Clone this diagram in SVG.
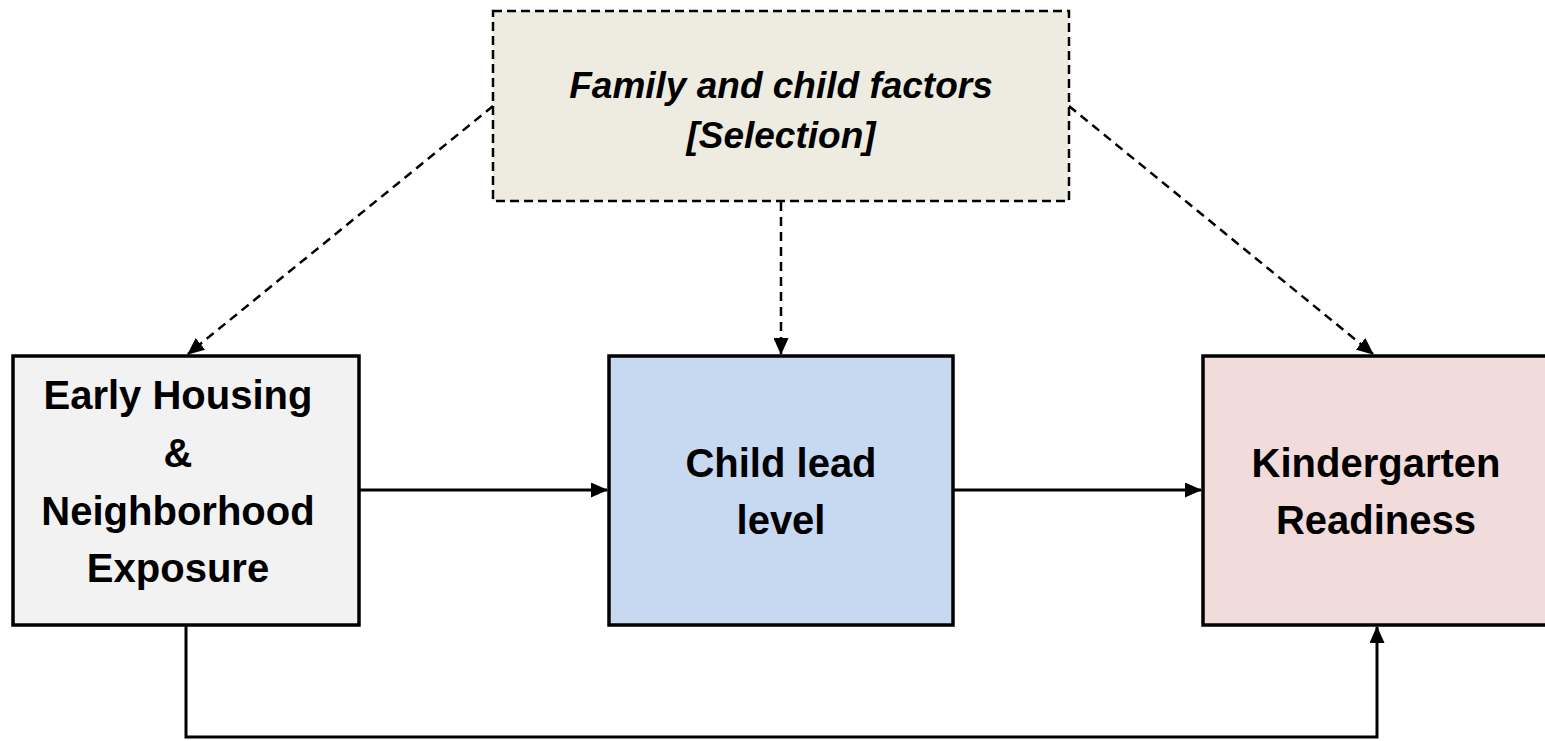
<svg xmlns="http://www.w3.org/2000/svg" width="1545" height="741" viewBox="0 0 1545 741">
<style>
.box{stroke:#000;stroke-width:3.5}
.dbox{stroke:#000;stroke-width:2.5;stroke-dasharray:9 5}
.lbl{font-family:"Liberation Sans",Arial,sans-serif;font-weight:bold;font-size:40px;fill:#000;text-anchor:middle}
.ital{font-style:italic;font-size:37px}
.solid{stroke:#000;stroke-width:3;fill:none}
.dash{stroke:#000;stroke-width:2.5;fill:none;stroke-dasharray:9 6}
</style>
<defs>
<marker id="ah" markerUnits="userSpaceOnUse" markerWidth="17" markerHeight="15" refX="16" refY="7.5" orient="auto">
<path d="M0,0 L17,7.5 L0,15 Z" fill="#000"/>
</marker>
</defs>
<rect width="1545" height="741" fill="#fff"/>
<g id="connectors">
<line class="solid" x1="359" y1="490" x2="607" y2="490" marker-end="url(#ah)"/>
<line class="solid" x1="953" y1="490" x2="1201" y2="490" marker-end="url(#ah)"/>
<polyline class="solid" points="186,625 186,737 1377,737 1377,627" marker-end="url(#ah)"/>
<line class="dash" x1="493" y1="106" x2="188" y2="354" marker-end="url(#ah)"/>
<line class="dash" x1="781" y1="202" x2="781" y2="354" marker-end="url(#ah)"/>
<line class="dash" x1="1069" y1="106" x2="1373" y2="354" marker-end="url(#ah)"/>
</g>
<g id="family">
<rect class="dbox" x="493" y="11" width="576" height="190" fill="#EEECE1"/>
<text class="lbl ital" x="781" y="98">Family and child factors</text>
<text class="lbl ital" x="781" y="148">[Selection]</text>
</g>
<g id="housing">
<rect class="box" x="13" y="356" width="346" height="269" fill="#F2F2F2"/>
<text class="lbl" x="178" y="409">Early Housing</text>
<text class="lbl" x="178" y="467">&amp;</text>
<text class="lbl" x="178" y="525">Neighborhood</text>
<text class="lbl" x="178" y="582">Exposure</text>
</g>
<g id="lead">
<rect class="box" x="609" y="356" width="344" height="269" fill="#C6D9F1"/>
<text class="lbl" x="781" y="477">Child lead</text>
<text class="lbl" x="781" y="534">level</text>
</g>
<g id="readiness">
<rect class="box" x="1203" y="356" width="350" height="269" fill="#F2DCDB"/>
<text class="lbl" x="1376" y="477">Kindergarten</text>
<text class="lbl" x="1376" y="534">Readiness</text>
</g>
</svg>
